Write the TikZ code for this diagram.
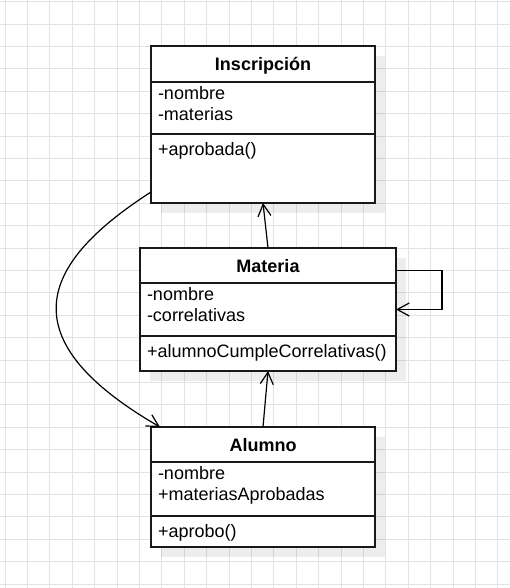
\documentclass[tikz,border=0pt]{standalone}
\usepackage{fontspec}
\setmainfont{Liberation Sans}
\usetikzlibrary{arrows.meta, shadows, calc, positioning}
\newcommand{\memberstrut}{\rule{0pt}{17.5pt}}
\tikzstyle{gridline} = [line width=1pt, draw=black!11]
\tikzstyle{classbox} = [rectangle, anchor=north west, outer sep=0pt, draw=black!90, line width=1.2pt, fill=white, drop shadow={shadow xshift=10pt, shadow yshift=-10pt, fill=black, opacity=0.07}]
\tikzstyle{classname} = [anchor=north, outer sep=0pt, inner sep=0pt, minimum height=36pt, text height=13pt, text depth=0pt, font=\bfseries\fontsize{18}{21.6}\selectfont]
\tikzstyle{members} = [anchor=north west, outer sep=0pt, align=left, inner xsep=7pt, inner ysep=4pt, execute at begin node=\memberstrut, font=\fontsize{18}{21.6}\selectfont]
\tikzstyle{divider} = [line width=1.2pt, draw=black!90]
\tikzstyle{arrow} = [line width=1.2pt, -{Straight Barb[length=12pt, width=13pt]}]

\begin{document}
\begin{tikzpicture}[x=1pt, y=-1pt]
    % Grid
    \useasboundingbox (0,0) rectangle (510,588);
    \fill [white] (0,0) rectangle (510,588);
    \foreach \i in {0,...,22}
        \draw [gridline] ({5+22.4*\i},0) -- ({5+22.4*\i},588);
    \foreach \j in {0,...,26}
        \draw [gridline] (0,{1.7+22.4*\j}) -- (510,{1.7+22.4*\j});

    % Nodes
    \node (inscripcion) [classbox, minimum width=224pt, minimum height=157pt] at (151,46) {};
    \node (inscripcionname) [classname] at (inscripcion.north) {Inscripción};
    \coordinate (inscripciontop) at ($(inscripcion.north west)+(0,36)$);
    \coordinate (inscripcionmid) at ($(inscripcion.north west)+(0,88)$);
    \draw [divider] (inscripciontop) -- (inscripciontop -| inscripcion.east);
    \draw [divider] (inscripcionmid) -- (inscripcionmid -| inscripcion.east);
    \node (inscripcionattrs) [members] at (inscripciontop) {-nombre\\-materias};
    \node (inscripcionops) [members] at (inscripcionmid) {+aprobada()};

    \node (materia) [classbox, minimum width=256pt, minimum height=123pt] at (140,248) {};
    \node (materianame) [classname] at (materia.north) {Materia};
    \coordinate (materiatop) at ($(materia.north west)+(0,35)$);
    \coordinate (materiamid) at ($(materia.north west)+(0,88)$);
    \draw [divider] (materiatop) -- (materiatop -| materia.east);
    \draw [divider] (materiamid) -- (materiamid -| materia.east);
    \node (materiaattrs) [members] at (materiatop) {-nombre\\-correlativas};
    \node (materiaops) [members] at (materiamid) {+alumnoCumpleCorrelativas()};

    \node (alumno) [classbox, minimum width=224pt, minimum height=120pt] at (151,427) {};
    \node (alumnoname) [classname] at (alumno.north) {Alumno};
    \coordinate (alumnotop) at ($(alumno.north west)+(0,35)$);
    \coordinate (alumnomid) at ($(alumno.north west)+(0,89)$);
    \draw [divider] (alumnotop) -- (alumnotop -| alumno.east);
    \draw [divider] (alumnomid) -- (alumnomid -| alumno.east);
    \node (alumnoattrs) [members] at (alumnotop) {-nombre\\+materiasAprobadas};
    \node (alumnoops) [members] at (alumnomid) {+aprobo()};

    % Arrows
    \draw [arrow] (materia.north) -- (inscripcion.south);
    \draw [arrow] (alumno.north) -- (materia.south);
    \draw [arrow] ([yshift=39pt]materia.east) -- ++(46,0) |- (materia.east);
    \draw [arrow] ([yshift=11pt]inscripcion.south west) .. controls (47,259) and (1,335) .. ([xshift=9pt]alumno.north west);
\end{tikzpicture}
\end{document}
